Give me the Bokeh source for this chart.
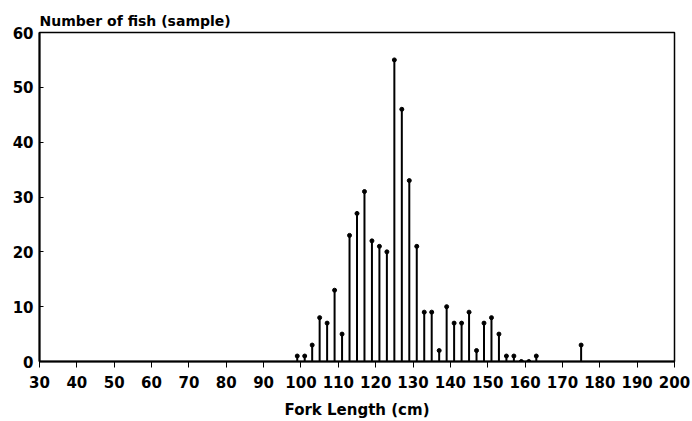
from bokeh.plotting import figure
from bokeh.models import Range1d, FixedTicker, ColumnDataSource
from bokeh.embed import file_html
from bokeh.resources import INLINE

fork_length = [99, 101, 103, 105, 107, 109, 111, 113, 115, 117, 119, 121, 123, 125, 127,
               129, 131, 133, 135, 137, 139, 141, 143, 145, 147, 149, 151, 153, 155, 157,
               159, 161, 163, 175]
num_fish = [1, 1, 3, 8, 7, 13, 5, 23, 27, 31, 22, 21, 20, 55, 46,
            33, 21, 9, 9, 2, 10, 7, 7, 9, 2, 7, 8, 5, 1, 1,
            0, 0, 1, 3]
x_ticks = list(range(30, 201, 10))
y_ticks = list(range(0, 61, 10))

src = ColumnDataSource(dict(x=fork_length, y=num_fish, z=[0] * len(fork_length)))

FONT = "DejaVu Sans"

p = figure(width=692, height=421, output_backend="svg", toolbar_location=None,
           x_range=Range1d(30, 200), y_range=Range1d(0, 60),
           min_border_left=39, min_border_right=18, min_border_top=32, min_border_bottom=60,
           title="Number of fish (sample)")
p.title.text_font = FONT
p.title.text_font_size = "14px"
p.title.text_font_style = "bold"
p.title.text_color = "black"
p.title.align = "left"
p.title.offset = 0
p.title.standoff = 8

p.segment(x0="x", y0="z", x1="x", y1="y", source=src, line_color="black", line_width=2)
p.scatter(x="x", y="y", source=src, size=4, color="black")

p.xgrid.visible = False
p.ygrid.visible = False
p.outline_line_color = "black"
p.outline_line_width = 1.5
p.background_fill_color = "white"
p.border_fill_color = "white"

p.xaxis.ticker = FixedTicker(ticks=x_ticks)
p.yaxis.ticker = FixedTicker(ticks=y_ticks)
p.xaxis.axis_label = "Fork Length (cm)"
for ax in (p.xaxis, p.yaxis):
    ax.axis_line_color = "black"
    ax.axis_line_width = 2
    ax.major_tick_line_color = "black"
    ax.major_tick_line_width = 1
    ax.minor_tick_line_color = None
    ax.major_label_text_font = FONT
    ax.major_label_text_font_size = "15px"
    ax.major_label_text_font_style = "bold"
    ax.major_label_text_color = "black"
    ax.axis_label_text_font = FONT
    ax.axis_label_text_font_size = "15px"
    ax.axis_label_text_font_style = "bold"
    ax.axis_label_text_color = "black"
p.xaxis.major_tick_out = 6
p.xaxis.major_tick_in = 0
p.yaxis.major_tick_out = 0
p.yaxis.major_tick_in = 4
p.xaxis.major_label_standoff = 8
p.yaxis.major_label_standoff = 6
p.xaxis.axis_label_standoff = 10

open("out.html", "w").write(file_html(p, INLINE))
